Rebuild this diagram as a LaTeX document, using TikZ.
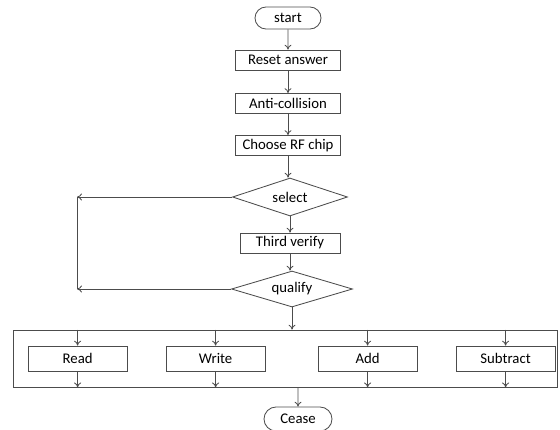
\documentclass[tikz,border=0pt]{standalone}
\usepackage{fontspec}
\setmainfont{Carlito}
\usepackage{tikz}
\usetikzlibrary{
	shapes.geometric,
	shapes.misc,
	arrows.meta,
	calc}

\begin{document}
\begin{tikzpicture}[
    font=\fontsize{10.5}{12}\selectfont,
    color=black!70, line width=0.6pt,
    every node/.style={text=black},
    >={To[length=3.5pt,width=5pt]},
    term/.style={draw, rounded rectangle, minimum width=1.65cm, minimum height=0.55cm, inner sep=0pt},
    stepbox/.style={draw, rectangle, minimum width=2.625cm, minimum height=0.5cm, inner sep=0pt},
    opbox/.style={draw, rectangle, minimum width=2.475cm, minimum height=0.625cm, inner sep=0pt},
    choice/.style={draw, diamond, aspect=3, inner sep=0pt}]
    \useasboundingbox (0,0) rectangle (14,10.725);
    \node[term] (S0) at (7.2,10.275) {start};
    \node[stepbox] (R1) at (7.2,9.225) {Reset answer};
    \node[stepbox] (A2) at (7.2,8.1375) {Anti-collision};
    \node[stepbox] (C3) at (7.2,7.0875) {Choose RF chip};
    \node[choice, minimum width=2.875cm, minimum height=0.95cm] (Sel) at (7.25,5.8) {select};
    \node[stepbox, minimum width=2.5cm] (T4) at (7.25,4.65) {Third verify};
    \node[choice, minimum width=3.025cm, minimum height=0.9cm] (Q5) at (7.3,3.5) {qualify};
    \node[draw, rectangle, minimum width=13.6cm, minimum height=1.425cm, inner sep=0pt] (F6) at (7.125,1.7625) {};
    \node[opbox] (Rd) at (1.94,1.7625) {Read};
    \node[opbox] (Wr) at (5.39,1.7625) {Write};
    \node[opbox] (Ad) at (9.19,1.7625) {Add};
    \node[opbox] (Sb) at (12.64,1.7625) {Subtract};
    \node[term, minimum width=1.7cm, minimum height=0.6cm] (E7) at (7.45,0.25) {Cease};
    \coordinate (L1) at (1.925,5.8);
    \coordinate (L2) at (1.925,3.5);

    \draw [->] (S0) to (R1);
    \draw [->] (R1) to (A2);
    \draw [->] (A2) to (C3);
    \draw [->] (C3) to (C3 |- Sel.north);
    \draw [->] (Sel.south -| T4) to (T4);
    \draw [->] (T4) to (T4 |- Q5.north);
    \draw [->] (Sel.west) to (L1);
    \draw [->] (Q5.west) to (L2);
    \draw (L1) to (L2);
    \draw [->] (Q5.south) to (Q5 |- F6.north);
    \foreach \op in {Rd,Wr,Ad,Sb} {
      \draw [->] (\op |- F6.north) to (\op);
      \draw [->] (\op) to (\op |- F6.south);
    }
    \draw [->] (E7 |- F6.south) to (E7);
  \end{tikzpicture}
\end{document}
